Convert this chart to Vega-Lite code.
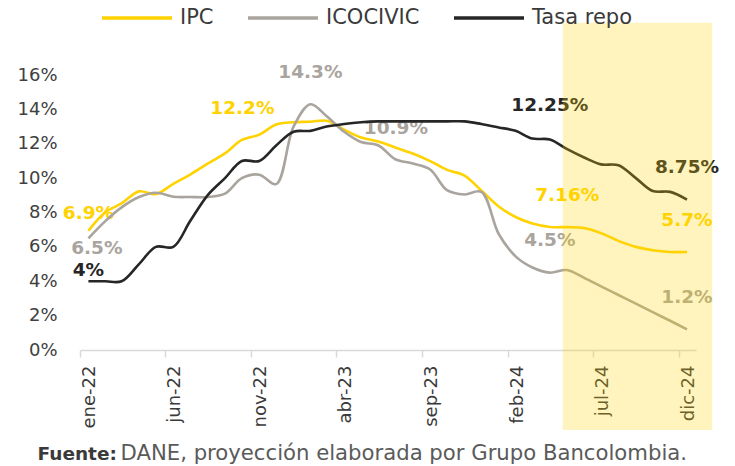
{
  "$schema": "https://vega.github.io/schema/vega-lite/v6.json",
  "width": 616,
  "height": 275,
  "autosize": {"type": "none"},
  "padding": {"left": 80, "top": 75, "right": 39, "bottom": 116},
  "background": "white",
  "config": {"view": {"stroke": null}, "font": "DejaVu Sans"},
  "datasets": {
    "series": [
      {"fecha": "2022-01-16", "IPC": 6.94, "ICOCIVIC": 6.5, "Tasa repo": 4.0},
      {"fecha": "2022-02-15", "IPC": 8.01, "ICOCIVIC": 7.5, "Tasa repo": 4.0},
      {"fecha": "2022-03-16", "IPC": 8.53, "ICOCIVIC": 8.3, "Tasa repo": 4.0},
      {"fecha": "2022-04-16", "IPC": 9.23, "ICOCIVIC": 8.9, "Tasa repo": 5.0},
      {"fecha": "2022-05-16", "IPC": 9.07, "ICOCIVIC": 9.15, "Tasa repo": 6.0},
      {"fecha": "2022-06-16", "IPC": 9.67, "ICOCIVIC": 8.92, "Tasa repo": 6.0},
      {"fecha": "2022-07-16", "IPC": 10.21, "ICOCIVIC": 8.9, "Tasa repo": 7.5},
      {"fecha": "2022-08-16", "IPC": 10.84, "ICOCIVIC": 8.9, "Tasa repo": 9.0},
      {"fecha": "2022-09-16", "IPC": 11.44, "ICOCIVIC": 9.1, "Tasa repo": 10.0},
      {"fecha": "2022-10-16", "IPC": 12.22, "ICOCIVIC": 10.0, "Tasa repo": 11.0},
      {"fecha": "2022-11-16", "IPC": 12.53, "ICOCIVIC": 10.2, "Tasa repo": 11.0},
      {"fecha": "2022-12-16", "IPC": 13.12, "ICOCIVIC": 9.65, "Tasa repo": 11.9},
      {"fecha": "2023-01-16", "IPC": 13.25, "ICOCIVIC": 13.0, "Tasa repo": 12.7},
      {"fecha": "2023-02-15", "IPC": 13.28, "ICOCIVIC": 14.3, "Tasa repo": 12.75},
      {"fecha": "2023-03-16", "IPC": 13.34, "ICOCIVIC": 13.6, "Tasa repo": 13.0},
      {"fecha": "2023-04-16", "IPC": 12.82, "ICOCIVIC": 12.7, "Tasa repo": 13.15},
      {"fecha": "2023-05-16", "IPC": 12.36, "ICOCIVIC": 12.1, "Tasa repo": 13.25},
      {"fecha": "2023-06-16", "IPC": 12.13, "ICOCIVIC": 11.9, "Tasa repo": 13.3},
      {"fecha": "2023-07-16", "IPC": 11.78, "ICOCIVIC": 11.1, "Tasa repo": 13.3},
      {"fecha": "2023-08-16", "IPC": 11.43, "ICOCIVIC": 10.85, "Tasa repo": 13.3},
      {"fecha": "2023-09-16", "IPC": 10.99, "ICOCIVIC": 10.5, "Tasa repo": 13.3},
      {"fecha": "2023-10-16", "IPC": 10.48, "ICOCIVIC": 9.3, "Tasa repo": 13.3},
      {"fecha": "2023-11-16", "IPC": 10.15, "ICOCIVIC": 9.05, "Tasa repo": 13.3},
      {"fecha": "2023-12-16", "IPC": 9.28, "ICOCIVIC": 9.2, "Tasa repo": 13.15},
      {"fecha": "2024-01-16", "IPC": 8.35, "ICOCIVIC": 6.75, "Tasa repo": 12.95},
      {"fecha": "2024-02-15", "IPC": 7.74, "ICOCIVIC": 5.45, "Tasa repo": 12.75},
      {"fecha": "2024-03-16", "IPC": 7.36, "ICOCIVIC": 4.8, "Tasa repo": 12.3},
      {"fecha": "2024-04-16", "IPC": 7.16, "ICOCIVIC": 4.5, "Tasa repo": 12.25},
      {"fecha": "2024-05-16", "IPC": 7.15, "ICOCIVIC": 4.65, "Tasa repo": 11.7},
      {"fecha": "2024-06-16", "IPC": 7.1, "ICOCIVIC": 4.2, "Tasa repo": 11.2},
      {"fecha": "2024-07-16", "IPC": 6.8, "ICOCIVIC": 3.7, "Tasa repo": 10.8},
      {"fecha": "2024-08-16", "IPC": 6.35, "ICOCIVIC": 3.2, "Tasa repo": 10.75},
      {"fecha": "2024-09-16", "IPC": 6.0, "ICOCIVIC": 2.7, "Tasa repo": 10.0},
      {"fecha": "2024-10-16", "IPC": 5.8, "ICOCIVIC": 2.2, "Tasa repo": 9.25},
      {"fecha": "2024-11-16", "IPC": 5.7, "ICOCIVIC": 1.7, "Tasa repo": 9.2},
      {"fecha": "2024-12-16", "IPC": 5.7, "ICOCIVIC": 1.2, "Tasa repo": 8.75}
    ],
    "etiquetas": [
      {"fecha": "2022-01-16", "serie": "IPC", "valor": 7.97, "texto": "6.9%"},
      {"fecha": "2022-01-31", "serie": "ICOCIVIC", "valor": 5.93, "texto": "6.5%"},
      {"fecha": "2022-01-16", "serie": "Tasa repo", "valor": 4.65, "texto": "4%"},
      {"fecha": "2022-10-17", "serie": "IPC", "valor": 14.08, "texto": "12.2%"},
      {"fecha": "2023-02-15", "serie": "ICOCIVIC", "valor": 16.17, "texto": "14.3%"},
      {"fecha": "2023-07-17", "serie": "ICOCIVIC", "valor": 12.91, "texto": "10.9%"},
      {"fecha": "2024-04-16", "serie": "Tasa repo", "valor": 14.25, "texto": "12.25%"},
      {"fecha": "2024-05-17", "serie": "IPC", "valor": 9.02, "texto": "7.16%"},
      {"fecha": "2024-04-16", "serie": "ICOCIVIC", "valor": 6.4, "texto": "4.5%"},
      {"fecha": "2024-12-16", "serie": "Tasa repo", "valor": 10.65, "texto": "8.75%"},
      {"fecha": "2024-12-16", "serie": "IPC", "valor": 7.56, "texto": "5.7%"},
      {"fecha": "2024-12-16", "serie": "ICOCIVIC", "valor": 3.08, "texto": "1.2%"}
    ],
    "proyeccion": [
      {"inicio": "2024-05-09", "fin": "2025-01-30", "arriba": 19.04, "abajo": -4.65}
    ]
  },
  "encoding": {
    "x": {
      "field": "fecha", "type": "temporal",
      "scale": {"type": "utc", "nice": false, "domain": [{"year": 2022, "month": 1, "date": 1, "utc": true}, {"year": 2025, "month": 1, "date": 1, "utc": true}]},
      "axis": {
        "values": [
          {"year": 2022, "month": 1, "date": 1, "utc": true},
          {"year": 2022, "month": 6, "date": 1, "utc": true},
          {"year": 2022, "month": 11, "date": 1, "utc": true},
          {"year": 2023, "month": 4, "date": 1, "utc": true},
          {"year": 2023, "month": 9, "date": 1, "utc": true},
          {"year": 2024, "month": 2, "date": 1, "utc": true},
          {"year": 2024, "month": 7, "date": 1, "utc": true},
          {"year": 2024, "month": 12, "date": 1, "utc": true}
        ],
        "labelExpr": "['ene','feb','mar','abr','may','jun','jul','ago','sep','oct','nov','dic'][utcmonth(datum.value)] + '-' + utcFormat(datum.value, '%y')",
        "labelAngle": 270,
        "labelOffset": 9.5,
        "labelPadding": 8,
        "labelFontSize": 18,
        "labelFont": "DejaVu Sans",
        "labelColor": "#3A3A3A",
        "labelBound": false,
        "labelOverlap": false,
        "labelFlush": false,
        "tickSize": 7,
        "tickColor": "#D9D9D9",
        "tickWidth": 1.5,
        "domainColor": "#D9D9D9",
        "domainWidth": 1.5,
        "grid": false,
        "title": "DANE, proyección elaborada por Grupo Bancolombia.",
        "titleX": 40,
        "titleY": 103,
        "titleAlign": "left",
        "titleBaseline": "middle",
        "titleFontSize": 21.2,
        "titleFontWeight": "normal",
        "titleFont": "DejaVu Sans",
        "titleColor": "#5A5A5A"
      }
    },
    "y": {
      "field": "valor", "type": "quantitative",
      "scale": {"domain": [0, 16], "nice": false, "zero": false},
      "axis": {
        "values": [0, 2, 4, 6, 8, 10, 12, 14, 16],
        "labelExpr": "datum.value + '%'",
        "domain": false,
        "ticks": false,
        "grid": false,
        "labelPadding": 23,
        "labelFontSize": 18,
        "labelFont": "DejaVu Sans",
        "labelColor": "#404040",
        "title": "Fuente:",
        "titleAngle": 0,
        "titleX": -43,
        "titleY": 378,
        "titleAlign": "left",
        "titleBaseline": "middle",
        "titleFontSize": 18.5,
        "titleFontWeight": "bold",
        "titleFont": "DejaVu Sans",
        "titleColor": "#3A3A3A"
      }
    },
    "color": {
      "field": "serie", "type": "nominal",
      "scale": {"domain": ["IPC", "ICOCIVIC", "Tasa repo"], "range": ["#FFD200", "#A9A49D", "#262626"]},
      "legend": {
        "orient": "none",
        "legendX": 20,
        "legendY": -94,
        "direction": "horizontal",
        "title": null,
        "symbolType": "stroke",
        "symbolSize": 4900,
        "symbolStrokeWidth": 3.5,
        "labelFontSize": 21,
        "labelFont": "DejaVu Sans",
        "labelColor": "#3A3A3A",
        "labelOffset": 6,
        "columnPadding": 27,
        "padding": 0
      }
    }
  },
  "layer": [
    {
      "data": {"name": "etiquetas"},
      "mark": {"type": "text", "fontWeight": "bold", "fontSize": 18.5, "font": "DejaVu Sans", "align": "center", "baseline": "middle", "clip": false},
      "encoding": {
        "text": {"field": "texto", "type": "nominal"}
      }
    },
    {
      "data": {"name": "series"},
      "transform": [{"fold": ["IPC", "ICOCIVIC", "Tasa repo"], "as": ["serie", "valor"]}],
      "mark": {"type": "line", "interpolate": "catmull-rom", "strokeWidth": 2.6}
    },
    {
      "data": {"name": "proyeccion"},
      "mark": {"type": "rect", "color": "#FFD500", "opacity": 0.26, "clip": false},
      "encoding": {
        "x": {"field": "inicio", "type": "temporal"},
        "x2": {"field": "fin"},
        "y": {"field": "arriba", "type": "quantitative"},
        "y2": {"field": "abajo"},
        "color": {"value": "#FFD500"}
      }
    }
  ]
}
